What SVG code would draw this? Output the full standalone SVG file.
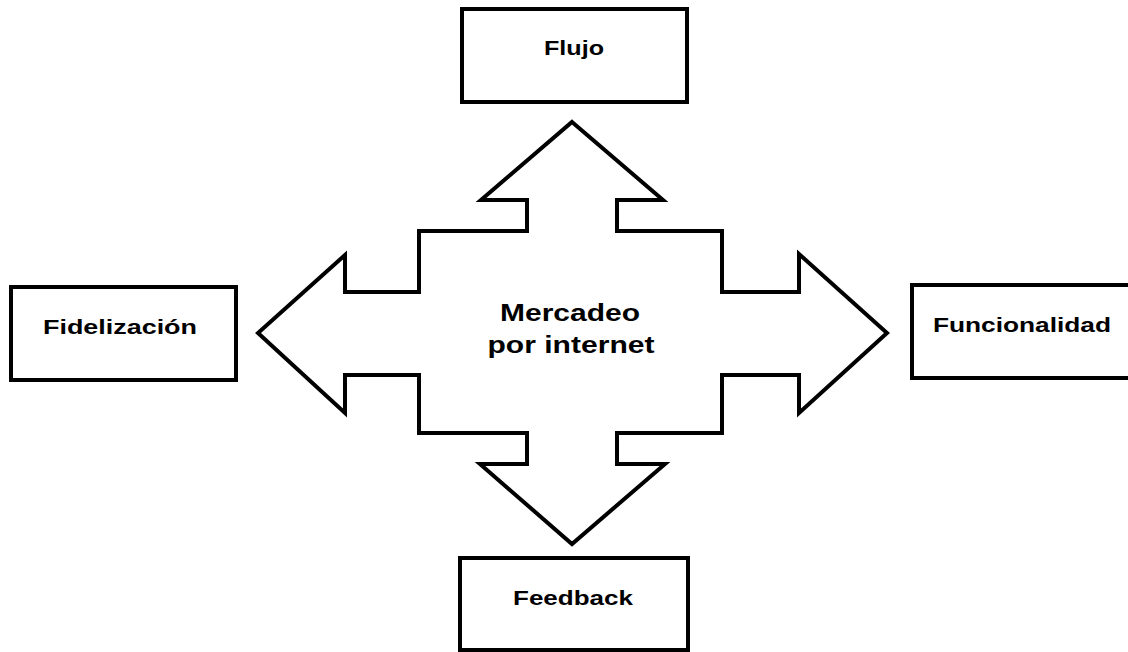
<svg xmlns="http://www.w3.org/2000/svg" width="1128" height="652" viewBox="0 0 1128 652">
<style>
.box{fill:#fff;stroke:#000;stroke-width:4}
.lbl{font-family:"Liberation Sans",Arial,sans-serif;font-weight:bold;font-size:20px;fill:#000;text-anchor:middle}
.ctr{font-family:"Liberation Sans",Arial,sans-serif;font-weight:bold;font-size:24px;fill:#000;text-anchor:middle}
</style>
<rect width="1128" height="652" fill="#fff"/>
<g id="connectors">
<polygon class="box" stroke-linejoin="miter" points="572,122 663,200 617,200 617,231 722,231 722,292 799,292 799,254 887,333 799,413 799,375 722,375 722,433 617,433 617,464 665,464 572,544 480,464 527,464 527,433 419,433 419,375 345,375 345,413 258,333 345,255 345,292 419,292 419,231 527,231 527,200 481,200"/>
</g>
<g id="center">
<text class="ctr" x="570" y="321" textLength="140" lengthAdjust="spacingAndGlyphs">Mercadeo</text>
<text class="ctr" x="571" y="353" textLength="167" lengthAdjust="spacingAndGlyphs">por internet</text>
</g>
<g id="flujo">
<rect class="box" x="462" y="9" width="225" height="93"/>
<text class="lbl" x="574" y="55" textLength="60" lengthAdjust="spacingAndGlyphs">Flujo</text>
</g>
<g id="fidelizacion">
<rect class="box" x="11" y="287" width="225" height="93"/>
<text class="lbl" x="120" y="334" textLength="154" lengthAdjust="spacingAndGlyphs">Fidelización</text>
</g>
<g id="funcionalidad">
<rect class="box" x="912" y="285" width="230" height="93"/>
<text class="lbl" x="1022" y="332" textLength="178" lengthAdjust="spacingAndGlyphs">Funcionalidad</text>
</g>
<g id="feedback">
<rect class="box" x="460" y="558" width="228" height="92"/>
<text class="lbl" x="573" y="605" textLength="120" lengthAdjust="spacingAndGlyphs">Feedback</text>
</g>
</svg>
